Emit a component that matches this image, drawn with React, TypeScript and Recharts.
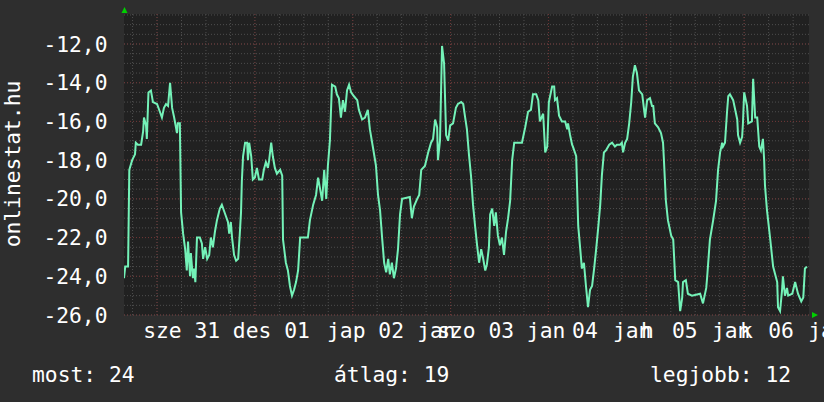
import { LineChart, Line, XAxis, YAxis, CartesianGrid } from "recharts";

// hours since the left edge of the graph (7 days shown)
const hours = [
  0.0, 0.3, 1.0, 1.3, 2.0, 2.7, 2.9, 3.4, 4.2, 4.7, 4.9, 5.4, 5.6, 6.0, 6.6, 7.1, 8.1, 8.8, 9.3, 9.8,
  10.3, 10.8, 11.3, 11.8, 12.3, 13.0, 13.2, 13.7, 14.0, 14.5, 15.0, 15.4, 15.7, 16.2, 16.4, 16.9, 17.2, 17.5, 17.9, 18.6,
  19.1, 19.4, 19.9, 20.4, 20.9, 21.3, 21.8, 22.3, 22.8, 23.5, 24.0, 24.5, 25.0, 25.5, 25.8, 26.2, 26.5, 27.0, 27.5, 28.0,
  28.4, 28.7, 28.9, 29.2, 29.7, 30.2, 30.4, 30.7, 31.2, 31.6, 32.1, 32.6, 33.1, 33.9, 34.3, 34.8, 35.3, 35.6, 36.1, 36.5,
  37.0, 37.5, 38.3, 38.8, 39.0, 39.7, 40.2, 40.7, 41.2, 41.7, 42.2, 42.7, 43.2, 45.1, 45.6, 46.4, 47.1, 47.6, 48.1, 48.6,
  49.1, 49.6, 50.0, 50.5, 51.0, 51.8, 52.2, 52.7, 53.2, 53.7, 54.2, 54.7, 55.2, 55.7, 56.4, 57.2, 57.6, 58.4, 59.1, 59.8,
  60.3, 61.1, 61.8, 62.3, 62.8, 63.3, 63.8, 64.3, 64.8, 65.2, 65.7, 66.2, 66.7, 67.2, 67.7, 68.2, 70.1, 70.6, 71.1, 71.9,
  72.4, 72.9, 73.8, 74.6, 75.3, 75.8, 76.3, 76.8, 77.0, 77.5, 78.0, 78.5, 79.0, 79.5, 80.0, 80.7, 81.4, 81.9, 82.7, 83.2,
  83.6, 84.1, 84.6, 85.1, 85.6, 86.1, 86.6, 87.1, 87.6, 88.1, 88.6, 89.0, 89.5, 89.8, 90.3, 90.8, 91.2, 91.7, 92.2, 92.7,
  93.2, 93.7, 94.2, 94.7, 95.2, 95.7, 97.6, 98.4, 99.1, 99.8, 100.3, 101.1, 101.6, 102.0, 102.8, 103.3, 103.8, 104.2, 105.0, 105.5,
  105.7, 106.2, 106.7, 107.4, 108.2, 108.7, 108.9, 109.4, 109.9, 110.1, 110.9, 111.4, 111.9, 112.3, 112.8, 113.3, 113.8, 114.3, 114.8, 115.3,
  115.8, 116.3, 116.8, 117.2, 117.7, 118.2, 119.0, 119.7, 120.4, 120.9, 121.7, 122.1, 122.4, 122.9, 123.4, 123.9, 124.4, 124.8, 125.3, 125.8,
  126.3, 127.1, 127.5, 127.8, 128.3, 129.0, 129.5, 129.8, 130.2, 131.0, 131.7, 132.2, 132.4, 132.9, 133.4, 134.2, 134.7, 135.2, 135.9, 136.4,
  136.9, 137.1, 137.8, 138.3, 139.3, 141.3, 142.0, 142.8, 143.0, 143.7, 144.5, 145.2, 145.7, 146.2, 146.7, 146.9, 147.4, 147.9, 148.2, 148.6,
  149.4, 149.9, 150.4, 150.6, 151.1, 151.6, 151.8, 152.1, 152.6, 152.8, 153.1, 154.0, 154.3, 154.8, 155.3, 155.8, 156.2, 156.7, 157.0, 157.2,
  157.7, 158.5, 159.2, 160.2, 160.4, 160.9, 161.4, 161.6, 162.1, 162.6, 162.9, 163.9, 164.6, 165.3, 166.1, 166.6, 167.0, 167.5,
];

const values = [
  -24.1, -23.5, -23.5, -18.5, -18.0, -17.7, -17.1, -17.2, -17.2, -16.5, -15.8, -16.2, -16.9, -14.5, -14.4, -15.0, -15.1, -15.5, -15.8, -15.3,
  -15.1, -15.2, -14.0, -15.3, -15.8, -16.6, -16.1, -16.1, -20.7, -21.8, -22.6, -23.7, -22.2, -24.0, -22.8, -24.1, -23.6, -24.3, -22.0, -22.0,
  -22.3, -23.1, -22.5, -23.1, -22.9, -22.0, -22.5, -21.7, -21.1, -20.5, -20.3, -20.6, -20.9, -21.2, -21.8, -21.2, -22.0, -22.9, -23.2, -23.1,
  -21.8, -20.7, -19.1, -17.8, -17.1, -17.1, -18.0, -17.1, -17.8, -19.0, -18.9, -18.4, -19.0, -19.0, -18.5, -18.1, -18.4, -18.0, -17.1, -17.8,
  -18.4, -18.7, -18.5, -18.8, -22.1, -23.3, -23.7, -24.5, -25.0, -24.7, -24.3, -23.7, -22.0, -22.0, -21.1, -20.3, -19.8, -18.9, -19.5, -20.1,
  -18.5, -20.0, -18.3, -17.0, -14.1, -14.2, -14.6, -14.8, -15.8, -14.9, -15.5, -14.4, -14.1, -14.5, -14.7, -14.9, -15.4, -15.9, -15.8, -15.4,
  -16.4, -17.4, -18.3, -19.8, -20.6, -22.0, -23.3, -23.8, -23.1, -23.9, -23.3, -24.1, -23.6, -22.6, -20.8, -20.0, -19.9, -21.0, -20.4, -20.0,
  -19.8, -18.5, -18.3, -17.6, -17.1, -16.9, -15.9, -16.3, -18.0, -17.0, -12.1, -13.0, -16.7, -17.0, -16.2, -16.1, -15.3, -15.1, -15.0, -15.1,
  -15.7, -16.4, -17.7, -18.8, -20.3, -21.4, -22.4, -23.3, -22.6, -23.1, -23.7, -23.4, -22.5, -20.8, -20.5, -21.4, -20.7, -21.9, -22.4, -22.0,
  -22.9, -21.7, -21.0, -20.1, -18.0, -17.1, -17.1, -16.3, -15.5, -15.4, -14.6, -14.6, -14.9, -16.0, -15.6, -17.6, -17.3, -15.0, -14.2, -14.2,
  -14.9, -14.8, -15.7, -16.0, -16.0, -16.4, -16.1, -16.7, -17.2, -17.3, -17.8, -21.4, -22.6, -23.6, -23.3, -24.5, -25.6, -24.7, -24.5, -23.6,
  -22.6, -21.5, -20.3, -18.8, -17.6, -17.5, -17.2, -17.1, -17.3, -17.2, -17.2, -17.1, -17.6, -17.1, -16.9, -16.1, -15.0, -13.7, -13.1, -13.5,
  -14.4, -14.6, -15.3, -15.8, -14.9, -14.8, -15.2, -15.2, -16.1, -16.3, -16.6, -17.1, -17.9, -20.1, -21.1, -21.9, -22.1, -24.2, -24.3, -25.8,
  -25.1, -24.3, -24.2, -24.9, -25.0, -24.9, -25.4, -24.6, -24.1, -22.1, -21.1, -20.1, -18.5, -17.6, -17.1, -17.3, -17.1, -15.5, -14.7, -14.6,
  -14.9, -15.4, -15.9, -16.7, -17.1, -16.8, -16.1, -14.5, -15.0, -15.2, -16.1, -16.0, -13.8, -15.8, -15.8, -17.3, -17.5, -16.9, -18.0, -19.3,
  -20.6, -22.1, -23.5, -24.3, -25.6, -25.8, -24.7, -24.0, -25.0, -24.6, -25.0, -24.9, -24.3, -24.9, -25.3, -25.1, -23.6, -23.5,
];

// x labels, as they come out on the original (they overlap each other)
const tickHours = [4.7, 26.7, 49.8, 71.9, 76.8, 98.8, 109.9, 119.9, 126.8, 134.4, 144.2, 151.1, 158.0, 167.8];
const tickLabels = ["sze 31", "des 01", "jap 02", "jan", "szo 03", "jan", "04", "jan", "h", "05", "jan", "k", "06", "ja"];

const yTicks = [-26, -24, -22, -20, -18, -16, -14, -12];

const stats = [
  { label: "most: 24", x: 32 },
  { label: "átlag: 19", x: 334 },
  { label: "legjobb: 12", x: 650 },
];

const data = hours.map((h, i) => ({ h, v: values[i] }));

// grid: minor every 6 hours / 0.5, major at midnight / every 2
const midnight = 8.1;
const minorX: number[] = [];
for (let h = midnight - 6; h < 168; h += 6) minorX.push(h);
const majorX = minorX.filter((_, i) => i % 4 === 1);
const minorY: number[] = [];
for (let v = -26; v <= -10.5; v += 0.5) minorY.push(v);

const FONT = "'DejaVu Sans Mono', monospace";
const FONT_SIZE = 21.3;

const XTick = (props: any) => {
  const { x, index } = props;
  return (
    <text x={x} y={338} fill="#ffffff" fontFamily={FONT} fontSize={FONT_SIZE} textAnchor="start">
      {tickLabels[index]}
    </text>
  );
};

const YTick = (props: any) => {
  const { y, payload } = props;
  return (
    <text x={107.5} y={y + 7.5} fill="#ffffff" fontFamily={FONT} fontSize={FONT_SIZE} textAnchor="end">
      {payload.value.toFixed(1).replace(".", ",")}
    </text>
  );
};

export default function App() {
  return (
    <div style={{ position: "relative", width: 824, height: 402, background: "#2e2e2e" }}>
      <style>{"body{margin:0}"}</style>
      <LineChart width={824} height={402} data={data} margin={{ top: 14, right: 15, bottom: 57, left: 0 }}>
        <CartesianGrid
          fill="#212121"
          stroke="#4e4e4e"
          strokeDasharray="1 2"
          horizontalValues={minorY}
          verticalValues={minorX}
        />
        <CartesianGrid
          fill="none"
          stroke="#6e3434"
          strokeDasharray="1 2"
          horizontalValues={yTicks}
          verticalValues={majorX}
        />
        <XAxis
          dataKey="h"
          type="number"
          domain={[0, 168]}
          ticks={tickHours}
          interval={0}
          tick={<XTick />}
          tickLine={false}
          axisLine={false}
          height={30}
          allowDataOverflow
        />
        <YAxis
          type="number"
          domain={[-26, -10.45]}
          ticks={yTicks}
          interval={0}
          tick={<YTick />}
          tickLine={false}
          axisLine={false}
          width={124}
          allowDataOverflow
        />
        <Line
          type="linear"
          dataKey="v"
          stroke="#74f2b8"
          strokeWidth={2}
          dot={false}
          isAnimationActive={false}
        />
      </LineChart>
      <svg
        width={824}
        height={402}
        style={{ position: "absolute", left: 0, top: 0, pointerEvents: "none" }}
      >
        <text
          transform="translate(20,164) rotate(-90)"
          fill="#ffffff"
          fontFamily={FONT}
          fontSize={FONT_SIZE}
          textAnchor="middle"
        >
          onlinestat.hu
        </text>
        {stats.map((s) => (
          <text key={s.label} x={s.x} y={382} fill="#ffffff" fontFamily={FONT} fontSize={FONT_SIZE}>
            {s.label}
          </text>
        ))}
        <polygon points="121.5,13 127.5,13 124.5,7" fill="#00d000" />
        <polygon points="812,312 812,318 818,315" fill="#00d000" />
      </svg>
    </div>
  );
}
